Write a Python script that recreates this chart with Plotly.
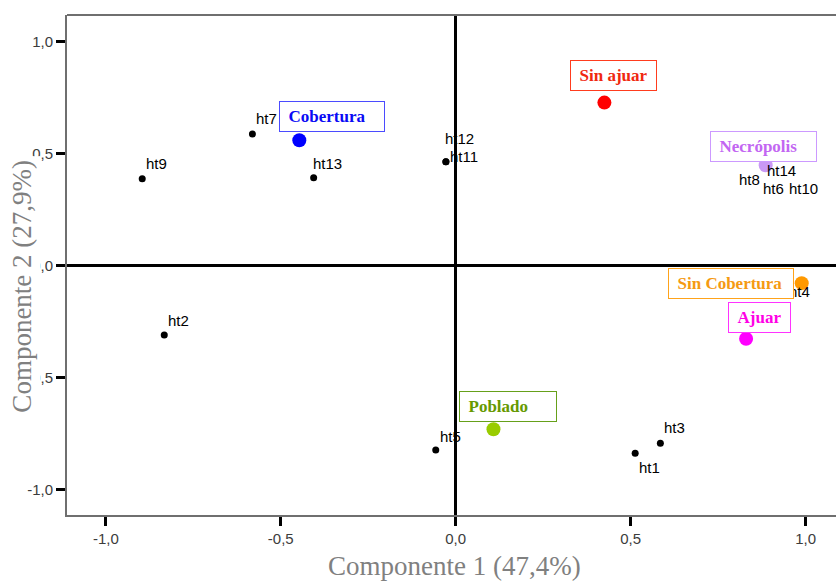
import plotly.graph_objects as go

# ---------------- data ----------------
pt_names = ["ht9", "ht7", "ht13", "ht12", "ht11", "ht2", "ht5", "ht3", "ht1",
            "ht14", "ht8", "ht6", "ht10", "ht4"]
pt_x = [-0.896, -0.581, -0.406, -0.028, -0.028, -0.833, -0.057, 0.585, 0.513,
        0.886, 0.884, 0.888, 0.890, 0.989]
pt_y = [0.387, 0.587, 0.392, 0.463, 0.463, -0.310, -0.824, -0.794, -0.838,
        0.447, 0.445, 0.443, 0.444, -0.079]

cat_names = ["Cobertura", "Sin ajuar", "Necrópolis", "Sin Cobertura", "Ajuar", "Poblado"]
cat_x = [-0.447, 0.425, 0.886, 0.989, 0.830, 0.108]
cat_y = [0.559, 0.727, 0.447, -0.079, -0.327, -0.731]

tick_vals = [-1.0, -0.5, 0.0, 0.5, 1.0]
x_tick_text = ["-1,0", "-0,5", "0,0", "0,5", "1,0"]
y_tick_text = ["-1,0", "-0,5", "0,0", "0,5", "1,0"]

x_title = "Componente 1 (47,4%)"
y_title = "Componente 2 (27,9%)"

# ---------------- styles ----------------
# label offsets in pixels: (xshift, yshift, xanchor)
pt_label_style = {
    "ht9": (4, 15, "left"), "ht7": (4, 15.7, "left"), "ht13": (-0.6, 14, "left"),
    "ht12": (-0.7, 23.4, "left"), "ht11": (3.6, 5, "left"), "ht2": (4, 14, "left"),
    "ht5": (4, 14, "left"), "ht3": (4, 15.6, "left"), "ht1": (4, -14, "left"),
    "ht14": (1, -5.4, "left"), "ht8": (-5, -13.7, "right"), "ht6": (-3.4, -22.4, "left"),
    "ht10": (22, -22.4, "left"), "ht4": (-12.7, -8.4, "left"),
}
# (marker colour, text colour, border colour, dx, dy(bottom), box w, box h)
cat_style = {
    "Cobertura":     ("#0000ff", "#0a0af5", "#4b4bff", -20.7, 8.0, 106, 30.6),
    "Sin ajuar":     ("#ff0000", "#f0280f", "#ff3c1e", -34.0, 11.7, 87, 30.7),
    "Necrópolis":    ("#c999f5", "#c266f2", "#cc99ff", -55.4, 3.0, 107, 30.6),
    "Sin Cobertura": ("#ff9900", "#f59a12", "#ffa31a", -133.7, -15.4, 125.7, 30.7),
    "Ajuar":         ("#ff00ff", "#ff00e6", "#ff33ff", -18.3, 5.4, 62.6, 30.6),
    "Poblado":       ("#99cc00", "#669900", "#66a01a", -34.6, 7.3, 97.6, 30.7),
}

fig = go.Figure()

fig.add_trace(go.Scatter(
    x=pt_x, y=pt_y, mode="markers",
    marker=dict(color="black", size=7, line=dict(width=0)),
    hoverinfo="skip", showlegend=False,
))
fig.add_trace(go.Scatter(
    x=cat_x, y=cat_y, mode="markers",
    marker=dict(color=[cat_style[n][0] for n in cat_names], size=14, line=dict(width=0)),
    hoverinfo="skip", showlegend=False,
))

annotations = []
for n, x, y in zip(pt_names, pt_x, pt_y):
    xs, ys, xa = pt_label_style[n]
    annotations.append(dict(
        x=x, y=y, xref="x", yref="y", text=n, showarrow=False,
        xanchor=xa, yanchor="middle", xshift=xs, yshift=ys,
        font=dict(family="Liberation Sans, Arial", size=15, color="black"),
        borderpad=0, borderwidth=0,
    ))

for n, x, y in zip(cat_names, cat_x, cat_y):
    mc, tc, bc, dx, dy, w, h = cat_style[n]
    annotations.append(dict(
        x=x, y=y, xref="x", yref="y", text="&nbsp;&nbsp;" + n, showarrow=False,
        xanchor="left", yanchor="bottom", xshift=dx, yshift=dy,
        width=w - 2, height=h - 2, align="left", valign="middle",
        bgcolor="white", bordercolor=bc, borderwidth=1, borderpad=0,
        font=dict(family="Liberation Serif, Times New Roman", size=17, color=tc, weight="bold"),
    ))

annotations.append(dict(
    x=0.5035, y=-0.102, xref="paper", yref="paper", text=x_title, showarrow=False,
    xanchor="center", yanchor="middle", borderpad=0,
    font=dict(family="Liberation Serif, Times New Roman", size=27, color="#808080"),
))
annotations.append(dict(
    x=-0.059, y=0.458, xref="paper", yref="paper", text=y_title, showarrow=False,
    xanchor="center", yanchor="middle", textangle=-90, bgcolor="white", borderpad=3,
    font=dict(family="Liberation Serif, Times New Roman", size=27, color="#808080"),
))

axis_common = dict(
    showgrid=False, zeroline=True, zerolinecolor="black", zerolinewidth=3,
    showline=True, linecolor="#6f6f6f", linewidth=2, mirror=False,
    ticks="outside", ticklen=9, tickwidth=3, tickcolor="black",
    tickvals=tick_vals,
    tickfont=dict(family="Liberation Sans, Arial", size=15, color="#3c3c3c"),
)

fig.update_layout(
    width=836, height=583,
    margin=dict(l=67, r=0, t=15, b=68),
    paper_bgcolor="white", plot_bgcolor="white",
    xaxis=dict(range=[-1.111, 1.087], ticktext=x_tick_text, **axis_common),
    yaxis=dict(range=[-1.114, 1.118], ticktext=y_tick_text, **axis_common),
    annotations=annotations,
    shapes=[dict(type="line", xref="paper", yref="paper", x0=0, x1=1, y0=1, y1=1,
                 line=dict(color="#6f6f6f", width=2))],
)

fig.write_html("out.html", config={"displayModeBar": False})
